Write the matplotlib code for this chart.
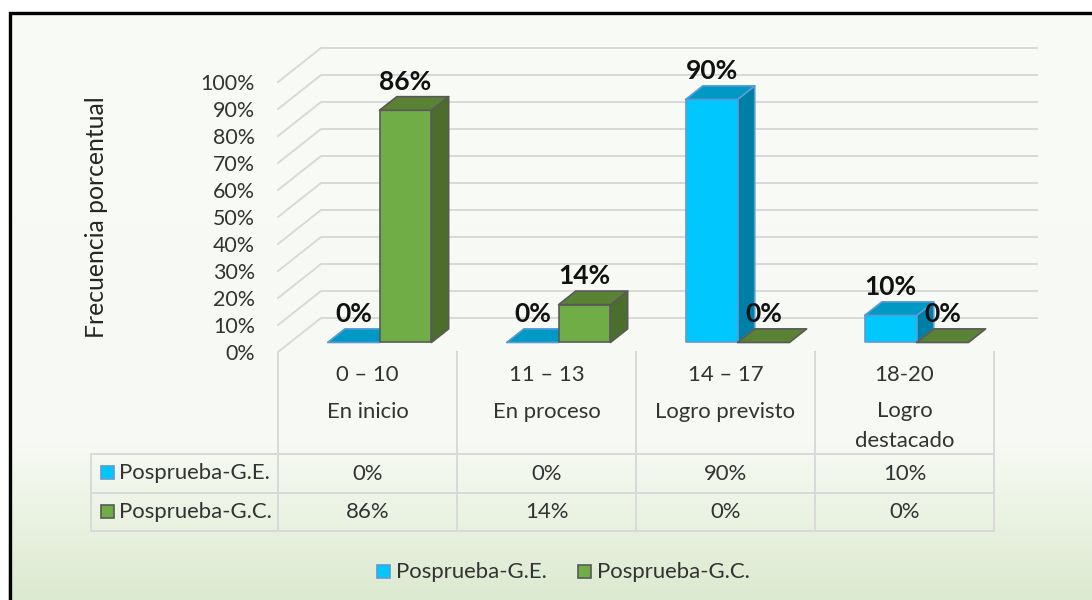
import numpy as np
import matplotlib
matplotlib.use("Agg")
import matplotlib.pyplot as plt
from matplotlib.patches import Polygon, Rectangle
from matplotlib.lines import Line2D
from matplotlib.colors import LinearSegmentedColormap

categories = ["0 – 10", "11 – 13", "14 – 17", "18-20"]
levels = ["En inicio", "En proceso", "Logro previsto", "Logro\ndestacado"]
series_names = ["Posprueba-G.E.", "Posprueba-G.C."]
ge_values = [0, 0, 90, 10]
gc_values = [86, 14, 0, 0]
y_ticks = list(range(0, 101, 10))

W, H = 1092, 600
plt.rcParams['font.family'] = ['Lato', 'DejaVu Sans']
fig = plt.figure(figsize=(W/100, H/100), dpi=100)

def fx(x): return x / W
def fy(y): return 1 - y / H

TXT = "#333333"
FS = 15.9

# background
bg = fig.add_axes([0, 0, 1, 1], zorder=0)
bg.set_axis_off()
cmap = LinearSegmentedColormap.from_list("g", [(0, "#F8FAF6"), (0.74, "#F7FAF4"), (0.84, "#EDF4E6"), (1, "#DCEAD0")])
grad = np.linspace(0, 1, 600).reshape(-1, 1)
bg.imshow(grad, extent=(0, W, H, 0), cmap=cmap, aspect='auto', vmin=0, vmax=1)
bg.set_xlim(0, W); bg.set_ylim(H, 0)
bg.add_patch(Rectangle((0, 0), W, 11, fc="white", ec="none"))
bg.add_patch(Rectangle((0, 0), 8, H, fc="white", ec="none"))
bg.plot([9.5, 9.5, W], [H, 12.5, 12.5], color="black", lw=2.4, solid_joinstyle='miter')

# main plot: front plane of the 3D box
ax = fig.add_axes([fx(278), fy(352), (994-278)/W, 270/H], zorder=1)
ax.set_xlim(-0.5, 3.5)
ax.set_ylim(0, 100)
ax.patch.set_alpha(0)
for s in ax.spines.values():
    s.set_visible(False)
ax.set_xticks([])
ax.set_yticks(y_ticks)
ax.set_yticklabels([f"{v}%" for v in y_ticks], fontsize=15.4, color=TXT)
ax.tick_params(axis='y', length=0, pad=16.5)

DX, DY = 43/179, 34/2.7   # depth offset in data units
GRID = "#D9D9D9"

def P(x, y, d):
    return (x + DX*d, y + DY*d)

for v in y_ticks:
    a = P(-0.5, v, 0); b = P(-0.5, v, 1); c = P(3.5, v, 1)
    ax.plot([a[0], b[0], c[0]], [a[1], b[1], c[1]], color=GRID, lw=1.4, clip_on=False, zorder=1)

D0, D1 = 0.28, 0.68

def box(x0, x1, v, front, side, top, edge, z):
    kw = dict(ec=edge, lw=1.2, clip_on=False, zorder=z, joinstyle='round')
    if v > 0:
        ax.add_patch(Polygon([P(x1, 0, D0), P(x1, 0, D1), P(x1, v, D1), P(x1, v, D0)], fc=side, **kw))
        ax.add_patch(Polygon([P(x0, 0, D0), P(x1, 0, D0), P(x1, v, D0), P(x0, v, D0)], fc=front, **kw))
    ax.add_patch(Polygon([P(x0, v, D0), P(x1, v, D0), P(x1, v, D1), P(x0, v, D1)], fc=top, **kw))

BW = 0.29
BLUE = ("#00C8FF", "#007FA6", "#0098C4"); BLUE_E = "#5B9BD5"
GREEN = ("#70AD47", "#4B6E2D", "#5A8235"); GREEN_E = "#595959"
for i in range(4):
    box(i-BW, i, ge_values[i], *BLUE, BLUE_E, 3+i)
    box(i, i+BW, gc_values[i], *GREEN, GREEN_E, 3.5+i)

# data labels
for i in range(4):
    for x0, v in ((i-BW, ge_values[i]), (i, gc_values[i])):
        px, py = P(x0+BW/2, v, D0)
        ax.text(px, py + 10.6, f"{v}%", ha='center', va='center', fontsize=19, fontweight='bold',
                color="#111111", clip_on=False, zorder=20)

# axis title
fig.text(fx(96.5), fy(217), "Frecuencia porcentual", rotation=90, ha='center', va='center',
         fontsize=17.8, color="#262626")

# table
def L(x0, y0, x1, y1):
    fig.add_artist(Line2D([fx(x0), fx(x1)], [fy(y0), fy(y1)], color=GRID, lw=1.4, zorder=2))

vx = [278, 457, 636, 815, 994]
for y in (454, 492.5, 531):
    L(91, y, 994, y)
L(91, 454, 91, 531)
for x in vx:
    L(x, 352, x, 531)

centers = [(vx[i]+vx[i+1])/2 for i in range(4)]
for i, c in enumerate(centers):
    fig.text(fx(c), fy(375), categories[i], ha='center', va='center', fontsize=FS, color=TXT)
    fig.text(fx(c), fy(411.5) if "\n" not in levels[i] else fy(426), levels[i], ha='center', va='center',
             fontsize=FS, color=TXT, linespacing=1.65)
    fig.text(fx(c), fy(474.5), f"{ge_values[i]}%", ha='center', va='center', fontsize=FS, color=TXT)
    fig.text(fx(c), fy(512.5), f"{gc_values[i]}%", ha='center', va='center', fontsize=FS, color=TXT)

def swatch(x, y, fc, ec):
    fig.add_artist(Rectangle((fx(x), fy(y+6.5)), 13/W, 13/H, fc=fc, ec=ec, lw=1.2, transform=fig.transFigure, zorder=3))

for (y, name, fc, ec) in ((472, series_names[0], BLUE[0], BLUE_E), (511, series_names[1], GREEN[0], GREEN_E)):
    swatch(100.5, y, fc, ec)
    fig.text(fx(119), fy(y + 1), name, ha='left', va='center', fontsize=FS, color=TXT)

for (x, name, fc, ec) in ((377, series_names[0], BLUE[0], BLUE_E), (578, series_names[1], GREEN[0], GREEN_E)):
    swatch(x, 571, fc, ec)
    fig.text(fx(x+19), fy(572), name, ha='left', va='center', fontsize=FS, color=TXT)

fig.savefig("out.png", dpi=100)
